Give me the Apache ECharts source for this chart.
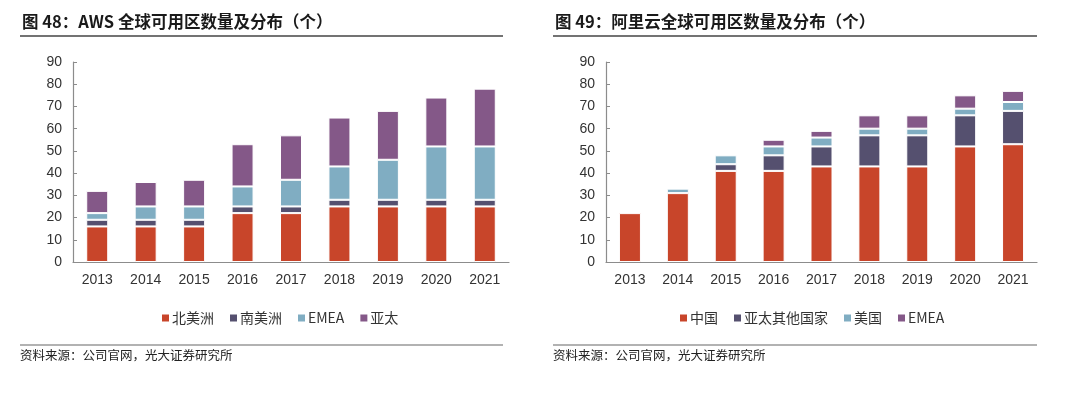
<!DOCTYPE html>
<html>
<head>
<meta charset="utf-8">
<script src="https://cdn.jsdelivr.net/npm/echarts@6/dist/echarts.min.js"></script>
<style>
  html, body { margin: 0; padding: 0; background: #fff; }
  .wrap { width: 1080px; height: 397px; display: flex; }
  .panel { width: 540px; height: 397px; }
</style>
</head>
<body>
<div class="wrap">
  <div class="panel" id="aws"></div>
  <div class="panel" id="ali"></div>
</div>
<script>
// 年份
const years = ['2013', '2014', '2015', '2016', '2017', '2018', '2019', '2020', '2021']
const yTicks = [0, 90, 10]

// 图48 AWS
const awsNames = ['北美洲', '南美洲', 'EMEA', '亚太']
const awsNorthAmerica = [16, 16, 16, 22, 22, 25, 25, 25, 25]
const awsSouthAmerica = [3, 3, 3, 3, 3, 3, 3, 3, 3]
const awsEmea = [3, 6, 6, 9, 12, 15, 18, 24, 24]
const awsApac = [10, 11, 12, 19, 20, 22, 22, 22, 26]

// 图49 阿里云
const aliNames = ['中国', '亚太其他国家', '美国', 'EMEA']
const aliChina = [22, 31, 41, 41, 43, 43, 43, 52, 53]
const aliApacOther = [0, 0, 3, 7, 9, 14, 14, 14, 15]
const aliUs = [0, 2, 4, 4, 4, 3, 3, 3, 4]
const aliEmea = [0, 0, 0, 3, 3, 6, 6, 6, 5]

const colors = ['#C8452A', '#55506F', '#80ADC2', '#845888']
const font = '"Liberation Sans", Arial, "Noto Sans CJK SC", sans-serif'
const cjk = '"Noto Sans CJK SC", "Liberation Sans", sans-serif'

function hline (x1, x2, y, w, c) {
    return { type: 'line', shape: { x1: x1, y1: y, x2: x2, y2: y }, style: { stroke: c, lineWidth: w } }
}

// 一个面板：标题、堆叠柱、图例、来源
function panelOption (cfg) {
    const axisColor = '#8c8c8c'
    return {
        animation: false,
        color: colors,
        title: {
            text: cfg.title, left: cfg.x0 - 3, top: 8,
            textStyle: { fontSize: 16.5, fontWeight: 'bold', color: '#1a1a1a', fontFamily: cjk }
        },
        legend: {
            left: cfg.legendLeft, top: 306, itemWidth: 9, itemHeight: 9, itemGap: 14, icon: 'rect',
            data: cfg.names,
            textStyle: { fontSize: 14, color: '#333', fontFamily: cjk, padding: [0, 0, 0, -3] }
        },
        grid: { left: cfg.gridLeft, right: cfg.gridRight, top: 62, bottom: 135 },
        xAxis: {
            type: 'category', data: years,
            axisLine: { lineStyle: { color: axisColor, width: 1.2 } },
            axisTick: { inside: true, length: 4, lineStyle: { color: axisColor } },
            axisLabel: { color: '#333', fontSize: 14, fontFamily: font, margin: 11 }
        },
        yAxis: {
            type: 'value', min: yTicks[0], max: yTicks[1], interval: yTicks[2],
            axisLine: { show: true, lineStyle: { color: axisColor, width: 1.2 } },
            axisTick: { show: true, inside: true, length: 4, lineStyle: { color: axisColor } },
            axisLabel: { color: '#333', fontSize: 14, fontFamily: font, margin: 11 },
            splitLine: { show: false }
        },
        series: cfg.lists.map((d, i) => ({
            name: cfg.names[i],
            type: 'bar',
            stack: 'total',
            barWidth: 22,
            itemStyle: { color: colors[i], borderColor: '#fff', borderWidth: 1 },
            data: d.map(v => v || null)
        })),
        graphic: [
            hline(cfg.x0, cfg.x1, 36, 1.5, '#444'),
            hline(cfg.x0, cfg.x1, 345, 1.2, '#666'),
            { type: 'text', x: cfg.x0, y: 349,
              style: { text: '资料来源：公司官网，光大证券研究所', fill: '#222', font: '12.5px ' + cjk } }
        ]
    }
}

const awsChart = echarts.init(document.getElementById('aws'))
awsChart.setOption(panelOption({
    title: '图 48：AWS 全球可用区数量及分布（个）',
    names: awsNames,
    lists: [awsNorthAmerica, awsSouthAmerica, awsEmea, awsApac],
    x0: 20, x1: 503, gridLeft: 73, gridRight: 31, legendLeft: 155
}))

const aliChart = echarts.init(document.getElementById('ali'))
aliChart.setOption(panelOption({
    title: '图 49：阿里云全球可用区数量及分布（个）',
    names: aliNames,
    lists: [aliChina, aliApacOther, aliUs, aliEmea],
    x0: 13, x1: 497, gridLeft: 66, gridRight: 43, legendLeft: 133
}))
</script>
</body>
</html>
